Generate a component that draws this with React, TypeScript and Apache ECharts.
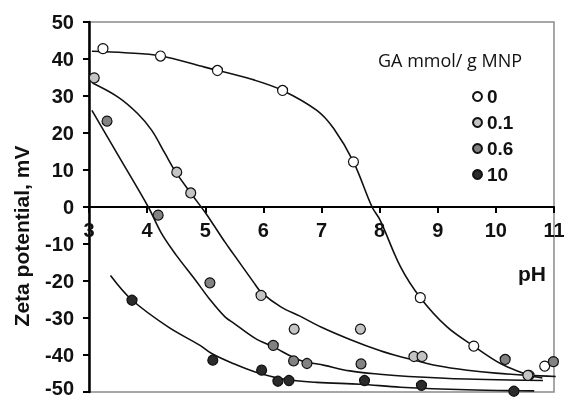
import React, { useEffect, useRef } from 'react';
import * as echarts from 'echarts';

// Legend groups (GA mmol / g MNP)
const groups = ['0', '0.1', '0.6', '10'];

// Measured points
const ph0 = [3.24, 4.23, 5.21, 6.33, 7.55, 8.7, 9.62, 10.57, 10.84];
const zeta0 = [42.8, 40.8, 36.9, 31.5, 12.2, -24.5, -37.6, -45.5, -43.0];
const ph01 = [3.09, 4.51, 4.75, 5.96, 6.53, 7.67, 8.59, 8.73, 10.55];
const zeta01 = [34.9, 9.4, 3.8, -23.9, -33.0, -33.0, -40.4, -40.4, -45.5];
const ph06 = [3.31, 4.19, 5.08, 6.17, 6.52, 6.75, 7.68, 10.16, 10.99];
const zeta06 = [23.2, -2.2, -20.5, -37.4, -41.6, -42.3, -42.4, -41.2, -41.8];
const ph10 = [3.74, 5.13, 5.97, 6.25, 6.44, 7.74, 8.72, 10.31];
const zeta10 = [-25.2, -41.4, -44.1, -47.1, -46.9, -46.9, -48.2, -49.8];

// Fitted curves
const fitPh0 = [3.05, 3.62, 4.22, 4.99, 5.8, 6.33, 6.92, 7.21, 7.55, 7.87, 8.01, 8.36, 8.7, 9.16, 9.62, 10.08, 10.57, 10.8];
const fitZeta0 = [42.1, 41.7, 40.9, 37.8, 34.5, 31.5, 26.1, 21.2, 12.2, 0, -3.6, -16.2, -24.5, -32.4, -37.6, -42.3, -45.5, -46.2];
const fitPh01 = [3.06, 3.5, 3.84, 4.08, 4.31, 4.49, 4.75, 5.0, 5.15, 5.34, 5.48, 5.83, 5.96, 6.3, 6.63, 7.0, 7.49, 8.0, 8.36, 8.6, 9.0, 9.51, 10.0, 10.57, 11.03];
const fitZeta01 = [33.5, 29.7, 25.2, 20.7, 14.4, 9.5, 3.8, -1.5, -5.0, -9.5, -12.6, -20.3, -23.0, -27.0, -29.5, -32.5, -35.8, -38.8, -40.5, -41.4, -42.9, -44.1, -44.9, -45.5, -45.8];
const fitPh06 = [3.05, 3.5, 4.02, 4.25, 4.5, 4.82, 5.08, 5.34, 5.5, 5.86, 6.17, 6.63, 7.05, 7.49, 8.0, 8.5, 9.5, 10.81];
const fitZeta06 = [26.1, 14.0, 0, -7.2, -13.0, -19.5, -25.0, -29.7, -31.5, -35.5, -37.8, -41.4, -42.8, -44.3, -45.2, -45.8, -46.5, -46.9];
const fitPh10 = [3.37, 3.73, 4.36, 4.91, 5.11, 5.48, 5.86, 6.34, 6.92, 7.67, 8.36, 9.5, 10.66];
const fitZeta10 = [-18.5, -25.0, -32.4, -37.4, -39.6, -42.3, -44.6, -46.5, -47.4, -47.9, -48.7, -49.4, -49.7];

const colors = ['#ffffff', '#c4c4c4', '#828282', '#2b2b2b'];

const zip = (xs: number[], ys: number[]) => xs.map((x, i) => [x, ys[i]]);

const W = 565;
const H = 399;
const GRID_TOP = 22;
const GRID_BOTTOM = 7;

export default function App() {
  const ref = useRef<HTMLDivElement>(null);
  useEffect(() => {
    if (!ref.current) return;
    const chart = echarts.init(ref.current, undefined, { renderer: 'svg' });
    const pts = [zip(ph0, zeta0), zip(ph01, zeta01), zip(ph06, zeta06), zip(ph10, zeta10)];
    const fits = [zip(fitPh0, fitZeta0), zip(fitPh01, fitZeta01), zip(fitPh06, fitZeta06), zip(fitPh10, fitZeta10)];
    const labelFont = { fontFamily: 'Liberation Sans', fontWeight: 'bold' as const, color: '#111' };
    // x axis sits at zeta = 0 : half of the plot height above the bottom
    const zeroOffset = -((H - GRID_TOP - GRID_BOTTOM) / 2);
    chart.setOption({
      animation: false,
      grid: {
        left: 89, right: 11, top: GRID_TOP, bottom: GRID_BOTTOM, show: true,
        borderColor: '#8a8a8a', borderWidth: 1.5, containLabel: false, outerBoundsMode: 'none',
      },
      xAxis: {
        type: 'value', min: 3, max: 11, interval: 1, position: 'bottom', offset: zeroOffset,
        axisLine: { onZero: false, lineStyle: { color: '#000', width: 2 } },
        axisTick: { show: true, length: 6, lineStyle: { color: '#000', width: 2 } },
        axisLabel: { ...labelFont, fontSize: 20, margin: 13, showMinLabel: true, showMaxLabel: true },
        splitLine: { show: false },
      },
      yAxis: {
        type: 'value', min: -50, max: 50, interval: 10,
        axisLine: { show: true, onZero: false, lineStyle: { color: '#000', width: 2.5 } },
        axisTick: { show: true, length: 6, lineStyle: { color: '#000', width: 2 } },
        axisLabel: {
          ...labelFont, fontSize: 20, margin: 15,
          formatter: (v: number) => (v === -50 ? `{low|${v}}` : `${v}`),
          rich: { low: { ...labelFont, fontSize: 20, padding: [0, 0, 8, 0] } },
        },
        splitLine: { show: false },
      },
      legend: {
        data: groups, orient: 'vertical', left: 472, top: 87, itemWidth: 9, itemHeight: 9, itemGap: 7, padding: 0,
        textStyle: { ...labelFont, fontSize: 19, lineHeight: 19 },
      },
      graphic: [
        { type: 'text', left: 378, top: 51, style: { text: 'GA mmol/ g MNP', font: '18px "Open Sans"', fill: '#111' } },
        { type: 'text', x: 21, y: 236, rotation: Math.PI / 2, style: { text: 'Zeta potential, mV', font: 'bold 21px "Liberation Sans"', fill: '#111', align: 'center', verticalAlign: 'middle' } },
        { type: 'text', x: 532, y: 273, style: { text: 'pH', font: 'bold 21px "Liberation Sans"', fill: '#111', align: 'center', verticalAlign: 'middle' } },
      ],
      series: [
        ...fits.map((d, i) => ({
          name: 'fit' + groups[i], type: 'line', data: d, smooth: 0.35, symbol: 'none', silent: true, z: 2,
          lineStyle: { color: '#111', width: 1.6 },
        })),
        ...pts.map((d, i) => ({
          name: groups[i], type: 'scatter', data: d, symbol: 'circle', symbolSize: 10, z: 3,
          itemStyle: { color: colors[i], borderColor: '#111', borderWidth: 1.2, opacity: 1 },
        })),
      ],
    });
    return () => chart.dispose();
  }, []);
  return <div ref={ref} style={{ position: 'fixed', left: 0, top: 0, width: W, height: H }} />;
}
